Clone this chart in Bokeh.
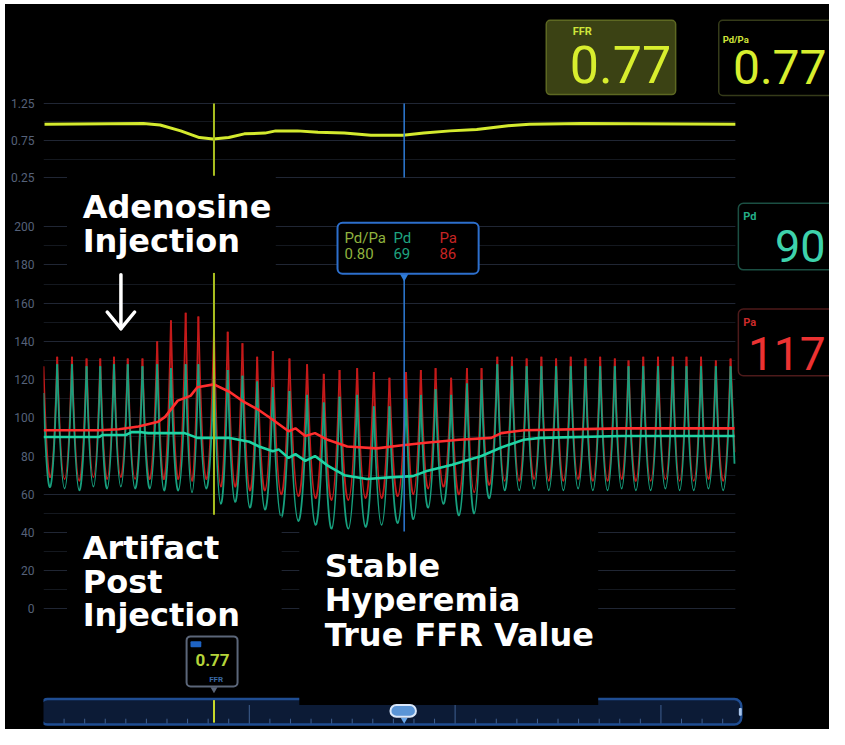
from bokeh.plotting import figure
from bokeh.models import Range1d, FixedTicker, BoxAnnotation, Label
from bokeh.layouts import column
from bokeh.embed import file_html
from bokeh.resources import INLINE

# ---------------- data ----------------
# time (s) of each systolic peak and of the diastolic trough preceding it
peak_t = [0.80, 1.66, 2.51, 3.31, 4.11, 4.91, 5.77, 6.63, 7.43, 8.29, 9.03, 9.94,
          10.74, 11.60, 12.46, 13.37, 14.34, 15.37, 16.34, 17.26, 18.29, 19.26, 20.17, 21.14,
          22.00, 22.86, 23.77, 24.69, 25.54, 26.46, 27.31, 28.17, 29.03, 29.89, 30.74, 31.60,
          32.46, 33.31, 34.11, 34.97, 35.83, 36.69, 37.49, 38.34, 39.20, 40.06]
trough_t = [0.40, 1.23, 2.09, 2.91, 3.71, 4.51, 5.34, 6.20, 7.03, 7.86, 8.66, 9.49,
            10.34, 11.17, 12.03, 12.91, 13.86, 14.86, 15.86, 16.80, 17.77, 18.77, 19.71, 20.66,
            21.57, 22.43, 23.31, 24.23, 25.11, 26.00, 26.89, 27.74, 28.60, 29.46, 30.31, 31.17,
            32.03, 32.89, 33.71, 34.54, 35.40, 36.26, 37.09, 37.91, 38.77, 39.63]
# aortic pressure Pa (mmHg)
pa_sys = [132, 132, 131, 131, 132, 131, 131, 140, 151, 155, 153, 146,
          145, 139, 132, 135, 131, 128, 123, 125, 126, 124, 121, 124,
          125, 126, 121, 126, 126, 132, 132, 131, 132, 131, 132, 131,
          132, 131, 130, 132, 132, 132, 132, 132, 130, 131]
pa_dia = [69, 68, 67, 69, 68, 69, 68, 68, 68, 68, 67, 68,
          64, 64, 62, 62, 60, 59, 58, 57, 57, 58, 58, 59,
          60, 63, 64, 60, 61, 65, 67, 67, 68, 67, 67, 68,
          67, 67, 68, 67, 67, 68, 67, 67, 68, 67]
# distal pressure Pd (mmHg)
pd_sys = [128, 128, 127, 127, 128, 128, 127, 128, 126, 128, 128, 126,
          125, 122, 119, 116, 114, 112, 108, 111, 112, 106, 106, 110,
          112, 115, 112, 118, 120, 128, 127, 127, 127, 127, 127, 127,
          127, 127, 127, 127, 127, 127, 127, 127, 127, 127]
pd_dia = [64, 63, 62, 64, 63, 64, 63, 63, 62, 62, 61, 63,
          55, 56, 53, 52, 48, 46, 44, 42, 42, 43, 44, 45,
          47, 53, 55, 49, 50, 58, 62, 62, 63, 62, 62, 63,
          62, 62, 63, 62, 62, 63, 62, 62, 63, 62]
rec_start_pa, rec_start_pd = 127, 113
rec_end_t = 40.29
rec_end_pa, rec_end_pd = 82, 76

# mean pressures
pa_mean_t = [0.00, 3.26, 4.40, 5.54, 6.69, 7.09, 7.83, 8.57, 8.97, 9.94, 10.86, 11.66,
             12.57, 13.37, 14.29, 14.69, 15.26, 15.83, 16.57, 17.71, 19.43, 20.80, 22.29,
             24.23, 26.11, 26.69, 28.00, 33.71, 40.29]
pa_mean = [93.5, 93.5, 94.0, 95.5, 98.0, 100.5, 109.0, 111.5, 116.0, 117.5, 113.5, 108.5,
           104.0, 99.0, 93.0, 94.5, 90.5, 92.0, 88.5, 85.0, 84.0, 85.5, 87.0,
           88.5, 89.5, 92.0, 93.5, 94.5, 94.5]
pd_mean_t = [0.00, 3.26, 3.43, 4.80, 5.14, 5.71, 6.11, 8.23, 8.97, 10.86, 12.00, 12.57,
             13.37, 13.71, 14.29, 14.69, 15.26, 15.83, 16.57, 17.54, 18.86, 20.40, 21.54,
             22.29, 23.83, 25.54, 26.69, 28.00, 28.97, 33.71, 40.29]
pd_mean = [90.0, 90.0, 91.0, 91.0, 92.5, 92.5, 92.0, 92.0, 89.5, 89.5, 87.5, 85.0,
           82.5, 83.5, 79.0, 81.0, 77.5, 80.0, 75.0, 70.0, 68.0, 69.0, 69.5,
           72.0, 75.5, 80.0, 84.5, 88.5, 89.5, 90.5, 90.5]
# Pd/Pa ratio trend
ratio_t = [0.06, 5.83, 6.80, 8.00, 9.09, 9.89, 10.80, 11.71, 12.91, 13.54, 14.80, 16.00,
           17.54, 19.09, 20.97, 22.17, 23.71, 25.26, 27.09, 28.34, 31.43, 40.34]
ratio = [0.97, 0.98, 0.96, 0.88, 0.79, 0.77, 0.79, 0.84, 0.85, 0.88, 0.88, 0.86,
         0.85, 0.82, 0.82, 0.85, 0.88, 0.90, 0.95, 0.97, 0.98, 0.97]

ffr_t = 9.94        # FFR marker (yellow)
cursor_t = 21.03    # stable hyperemia cursor (blue)
ffr_value = 0.77
live_pdpa = 0.77
live_pd = 90
live_pa = 117
cursor_pdpa = 0.80
cursor_pd = 69
cursor_pa = 86

pressure_ticks = [0, 20, 40, 60, 80, 100, 120, 140, 160, 180, 200]
pressure_minor = [10, 30, 50, 70, 90, 110, 130, 150, 170, 190]
ratio_ticks = [0.25, 0.75, 1.25]
ratio_minor = [0.5, 1.0]

assert len(peak_t) == len(trough_t) == len(pa_sys) == len(pa_dia) == len(pd_sys) == len(pd_dia)

# ---------------- layout helpers (reference-pixel placement of decorations) ----------------
PX_PER_S = 17.5


def tx(px):
    return (px - 43) / PX_PER_S


def vy(py):
    return (619 - py) / 1.95


def ry(py):
    return 1.25 - (py - 104) / 75.0


W = 824
H_TOP = 184
H_BOT = 541
SPLIT = 190          # reference pixel row where the two panels meet
X_END = tx(845)
BASE_SHIFT = {"Roboto": 0.37, "DejaVu Sans": 0.28}


def make_fig(h, yr, ticks, minor):
    p = figure(width=W, height=h, x_range=Range1d(0, X_END), y_range=yr,
               output_backend="svg", toolbar_location=None, x_axis_location=None,
               background_fill_color="black", border_fill_color=None,
               min_border_left=38, min_border_right=0, min_border_top=0, min_border_bottom=0,
               styles={"background-color": "black"})
    p.outline_line_color = None
    p.xgrid.visible = False
    ax = p.yaxis[0]
    ax.ticker = FixedTicker(ticks=ticks, minor_ticks=minor)
    ax.axis_line_color = None
    ax.major_tick_line_color = None
    ax.minor_tick_line_color = None
    ax.major_tick_out = 0
    ax.major_tick_in = 0
    ax.major_label_standoff = 5
    ax.major_label_text_color = "#56627a"
    ax.major_label_text_font = "Roboto"
    ax.major_label_text_font_size = "12px"
    p.ygrid.grid_line_color = "#202634"
    p.ygrid.grid_line_width = 1
    p.ygrid.minor_grid_line_color = "#14181f"
    return p


def box(p, l, r, t, b, fill, line=None, lw=1.0, radius=0, level="guide"):
    p.add_layout(BoxAnnotation(left=l, right=r, top=t, bottom=b,
                               fill_color=fill, fill_alpha=1.0,
                               line_color=line, line_alpha=1.0, line_width=lw,
                               border_radius=radius, level=level))


def lab(p, text, px, py, yf, size, color, font="Roboto", style="normal", align="left"):
    py_adj = py - BASE_SHIFT[font] * size
    p.add_layout(Label(x=tx(px), y=yf(py_adj), text=text, text_font_size=f"{size}px",
                       text_color=color, text_font=font, text_font_style=style,
                       text_align=align, text_baseline="alphabetic", level="overlay"))


# ================= top: Pd/Pa trend =================
top = make_fig(H_TOP, Range1d(ry(SPLIT), ry(4)), ratio_ticks, ratio_minor)
top.quad(left=rec_end_t + 0.05, right=X_END + 1, bottom=-5, top=5, fill_color="black", line_color=None)
top.line(ratio_t, ratio, line_color="#d4ea2e", line_width=3)
top.segment(x0=[ffr_t], y0=[ry(104)], x1=[ffr_t], y1=[ry(177)], line_color="#a9bf1f", line_width=2)
top.segment(x0=[cursor_t], y0=[ry(104)], x1=[cursor_t], y1=[ry(179)], line_color="#2e7bd6", line_width=1.5)
# mask behind "Adenosine Injection"
top.quad(left=tx(67), right=tx(280), bottom=ry(250), top=ry(177.5), fill_color="black", line_color=None)

box(top, tx(556), tx(688), ry(20), ry(95), "#3b4214", "#5d6822", 1.5, 4)
box(top, tx(732), tx(880), ry(20), ry(96), "#000000", "#353b19", 1.5, 4)
lab(top, "FFR", 583, 35.5, ry, 11, "#cfe43a", style="bold")
lab(top, f"{ffr_value:.2f}", 580, 83.5, ry, 52, "#d8ee2e")
lab(top, "Pd/Pa", 736, 42.5, ry, 9.5, "#cfe43a", style="bold")
lab(top, f"{live_pdpa:.2f}", 842, 85, ry, 48, "#d8ee2e", align="right")

# ================= bottom: pressures =================
bot = make_fig(H_BOT, Range1d(vy(742), vy(SPLIT)), pressure_ticks, pressure_minor)
bot.quad(left=rec_end_t + 0.05, right=X_END + 1, bottom=-100, top=300, fill_color="black", line_color=None)


def draw_pulses(p, start, sys_v, dia_v, end, color):
    # each beat: curve from one systolic peak to the next, bottoming out at the diastolic value
    x0 = [0.0] + peak_t[:-1]
    y0 = [start] + sys_v[:-1]
    cy = [2 * d - (a + b) / 2 for d, a, b in zip(dia_v, y0, sys_v)]
    p.quadratic(x0=x0, y0=y0, x1=peak_t, y1=sys_v, cx=trough_t, cy=cy,
                line_color=color, line_width=1.8)
    p.segment(x0=[peak_t[-1]], y0=[sys_v[-1]], x1=[rec_end_t], y1=[end],
              line_color=color, line_width=1.8)


draw_pulses(bot, rec_start_pa, pa_sys, pa_dia, rec_end_pa, "#c41a1a")
draw_pulses(bot, rec_start_pd, pd_sys, pd_dia, rec_end_pd, "#17a07e")
bot.line(pa_mean_t, pa_mean, line_color="#ff2e2e", line_width=2.6)
bot.line(pd_mean_t, pd_mean, line_color="#1fd4a4", line_width=2.6)

# cursor lines
bot.segment(x0=[ffr_t], y0=[vy(276)], x1=[ffr_t], y1=[vy(523)], line_color="#a9bf1f", line_width=2)
bot.segment(x0=[cursor_t], y0=[vy(279)], x1=[cursor_t], y1=[vy(540)], line_color="#2e7bd6", line_width=1.5)
bot.scatter([cursor_t], [vy(279.5)], marker="inverted_triangle", size=9,
            fill_color="#2e7bd6", line_color=None)

# down arrow
ax_ = tx(122)
bot.segment(x0=[ax_, ax_, ax_], y0=[vy(278), vy(333), vy(333)],
            x1=[ax_, tx(108), tx(136)], y1=[vy(332), vy(316), vy(316)],
            line_color="white", line_width=3.5, line_cap="round")

# scrollbar
box(bot, tx(40), tx(755), vy(711), vy(737), "#0c1b36", "#1f4d92", 2.5, 7)
box(bot, tx(752.5), tx(755.5), vy(720), vy(728), "#a8c4ea", None, 0, 1)
box(bot, tx(39.5), tx(42.5), vy(720), vy(728), "#a8c4ea", None, 0, 1)

# text masks
box(bot, tx(67), tx(280), vy(160), vy(276), "#000000")
box(bot, tx(67), tx(286), vy(524), vy(645), "#000000")
box(bot, tx(304), tx(609), vy(540.5), vy(717), "#000000")

# tooltip at the hyperemia cursor
box(bot, tx(343), tx(487), vy(225), vy(277), "#000000", "#2d6fcc", 2, 5)
lab(bot, "Pd/Pa", 350, 246.5, vy, 15, "#8fb23e")
lab(bot, f"{cursor_pdpa:.2f}", 350, 261.5, vy, 15, "#8fb23e")
lab(bot, "Pd", 400, 246.5, vy, 15, "#1fa37f")
lab(bot, str(cursor_pd), 400, 261.5, vy, 15, "#1fa37f")
lab(bot, "Pa", 447, 246.5, vy, 15, "#c62424")
lab(bot, str(cursor_pa), 447, 261.5, vy, 15, "#c62424")

# small FFR marker tooltip
box(bot, tx(189), tx(241), vy(647), vy(698), "#000000", "#5b6679", 2, 4)
box(bot, tx(193), tx(204), vy(652), vy(658), "#1e63c4", None, 0, 1)
bot.scatter([ffr_t], [vy(701)], marker="inverted_triangle", size=7,
            fill_color="#5b6679", line_color=None)
lab(bot, f"{ffr_value:.2f}", 198, 677, vy, 17, "#b5d43a", style="bold")
lab(bot, "FFR", 212, 694, vy, 8, "#3b6aa6", style="bold")

# live value panels
box(bot, tx(752), tx(880), vy(205), vy(273), "#000000", "#1b4f43", 1.5, 5)
box(bot, tx(752), tx(880), vy(313), vy(381), "#000000", "#4d1a1a", 1.5, 5)
lab(bot, "Pd", 757, 223, vy, 11, "#24ad88", style="bold")
lab(bot, str(live_pd), 841, 265, vy, 45, "#3ed2ab", align="right")
lab(bot, "Pa", 757, 331, vy, 11, "#cc2a2a", style="bold")
lab(bot, str(live_pa), 841, 375, vy, 46, "#ec3232", align="right")

# scrollbar ticks
scroll_ticks = [1.2 * k for k in range(1, 34)]
minor_x = [t for i, t in enumerate(scroll_ticks, 1) if i % 10]
major_x = [t for i, t in enumerate(scroll_ticks, 1) if i % 10 == 0]
bot.segment(x0=minor_x, y0=[vy(736)] * len(minor_x), x1=minor_x, y1=[vy(731)] * len(minor_x),
            line_color="#3f5f90", line_width=1, level="annotation")
bot.segment(x0=major_x, y0=[vy(736)] * len(major_x), x1=major_x, y1=[vy(717)] * len(major_x),
            line_color="#3f5f90", line_width=1, level="annotation")
bot.segment(x0=[ffr_t], y0=[vy(735)], x1=[ffr_t], y1=[vy(712)],
            line_color="#c8d82a", line_width=2, level="annotation")
# scrollbar handle
box(bot, tx(397), tx(423), vy(717), vy(729), "#5b95d6", "#dbe8fa", 2, 6, level="overlay")
bot.scatter([cursor_t], [vy(732)], marker="inverted_triangle", size=7,
            fill_color="#6aa6e6", line_color=None, level="overlay")

# annotation texts
AF = "DejaVu Sans"
for txt, px, py in [("Adenosine", 83, 218), ("Injection", 83, 253),
                    ("Artifact", 83, 566), ("Post", 83, 600), ("Injection", 83, 634),
                    ("Stable", 330, 584), ("Hyperemia", 330, 619), ("True FFR Value", 330, 655)]:
    lab(bot, txt, px, py, vy, 32, "#ffffff", font=AF, style="bold")

layout = column(top, bot, spacing=0, margin=(4, 0, 0, 5), styles={"background-color": "black"})
open("out.html", "w").write(file_html(layout, INLINE))
